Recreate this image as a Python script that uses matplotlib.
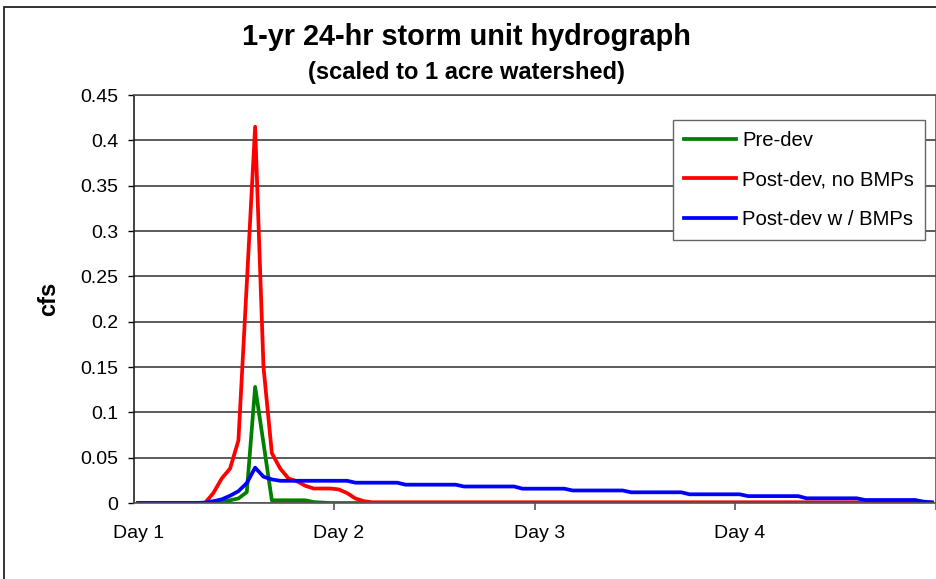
import matplotlib
matplotlib.use('Agg')
import matplotlib.pyplot as plt
from matplotlib.patches import Rectangle

plt.rcParams['font.family'] = ['Liberation Sans', 'DejaVu Sans']

# hourly flows (cfs), 96 hours = 4 days
pre_dev = [0, 0, 0, 0, 0, 0, 0, 0, 0, 0.0005, 0.001, 0.003,
           0.005, 0.012, 0.128, 0.066, 0.003, 0.003, 0.003, 0.003, 0.003, 0.001, 0.0005, 0,
           0, 0, 0, 0, 0, 0, 0, 0, 0, 0, 0, 0,
           0, 0, 0, 0, 0, 0, 0, 0, 0, 0, 0, 0,
           0, 0, 0, 0, 0, 0, 0, 0, 0, 0, 0, 0,
           0, 0, 0, 0, 0, 0, 0, 0, 0, 0, 0, 0,
           0, 0, 0, 0, 0, 0, 0, 0, 0, 0, 0, 0,
           0, 0, 0, 0, 0, 0, 0, 0, 0, 0, 0, 0]

post_no_bmp = [0, 0, 0, 0, 0, 0, 0, 0, 0, 0.011, 0.027, 0.038,
               0.069, 0.242, 0.415, 0.150, 0.055, 0.038, 0.027, 0.024, 0.019, 0.016, 0.016, 0.016,
               0.015, 0.011, 0.005, 0.002, 0.0008, 0.0008, 0.0008, 0.0008, 0.0008, 0.0008, 0.0008, 0.0008,
               0.0008, 0.0008, 0.0008, 0.0008, 0.0008, 0.0008, 0.0008, 0.0008, 0.0008, 0.0008, 0.0008, 0.0008,
               0.0008, 0.0008, 0.0008, 0.0008, 0.0008, 0.0008, 0.0008, 0.0008, 0.0008, 0.0008, 0.0008, 0.0008,
               0.0008, 0.0008, 0.0008, 0.0008, 0.0008, 0.0008, 0.0008, 0.0008, 0.0008, 0.0008, 0.0008, 0.0008,
               0.0008, 0.0008, 0.0008, 0.0008, 0.0008, 0.0008, 0.0008, 0.0008, 0.0008, 0.0008, 0.0008, 0.0008,
               0.0008, 0.0008, 0.0008, 0.0004, 0.0004, 0.0004, 0.0004, 0.0004, 0.0004, 0.0004, 0.0004, 0.0004]

post_bmp = [0, 0, 0, 0, 0, 0, 0, 0, 0.0005, 0.002, 0.004, 0.008,
            0.013, 0.022, 0.039, 0.029, 0.026, 0.0245, 0.0245, 0.0245, 0.0245, 0.0245, 0.0245, 0.0245,
            0.0245, 0.0245, 0.0224, 0.0224, 0.0224, 0.0224, 0.0224, 0.0224, 0.0202, 0.0202, 0.0202, 0.0202,
            0.0202, 0.0202, 0.0202, 0.0182, 0.0182, 0.0182, 0.0182, 0.0182, 0.0182, 0.0182, 0.0158, 0.0158,
            0.0158, 0.0158, 0.0158, 0.0158, 0.0138, 0.0138, 0.0138, 0.0138, 0.0138, 0.0138, 0.0138, 0.0118,
            0.0118, 0.0118, 0.0118, 0.0118, 0.0118, 0.0118, 0.0096, 0.0096, 0.0096, 0.0096, 0.0096, 0.0096,
            0.0096, 0.0076, 0.0076, 0.0076, 0.0076, 0.0076, 0.0076, 0.0076, 0.0052, 0.0052, 0.0052, 0.0052,
            0.0052, 0.0052, 0.0052, 0.0033, 0.0033, 0.0033, 0.0033, 0.0033, 0.0033, 0.0033, 0.0015, 0.0008]

day_labels = ['Day 1', 'Day 2', 'Day 3', 'Day 4']
day_pos = [0, 24, 48, 72]
y_ticks = [0, 0.05, 0.1, 0.15, 0.2, 0.25, 0.3, 0.35, 0.4, 0.45]
y_labels = ['0', '0.05', '0.1', '0.15', '0.2', '0.25', '0.3', '0.35', '0.4', '0.45']

W, H = 937, 579
fig = plt.figure(figsize=(W/100, H/100), dpi=100)

# chart area border (only left and top edges show)
fig.patches.append(Rectangle((4/W, -0.1), 1.2, (H-7)/H + 0.1, transform=fig.transFigure,
                             fill=False, ec='#222222', lw=1.3, clip_on=False))

ax = fig.add_axes([134/W, 76/H, 802/W, 408/H])
hours = list(range(len(pre_dev)))
ax.plot(hours, pre_dev, color='#008000', lw=2.7, label='Pre-dev')
ax.plot(hours, post_no_bmp, color='#ff0000', lw=2.7, label='Post-dev, no BMPs')
ax.plot(hours, post_bmp, color='#0000ff', lw=2.7, label='Post-dev w / BMPs')

ax.set_xlim(-0.5, 95.5)
ax.set_ylim(0, 0.45)
ax.set_yticks(y_ticks)
ax.set_yticklabels(y_labels)
ax.yaxis.grid(True, color='#404040', lw=1.2)
ax.set_axisbelow(True)

ax.set_xticks(day_pos)
ax.set_xticklabels(day_labels)
ax.set_xticks([23.5, 47.5, 71.5, 95.5], minor=True)
ax.tick_params(axis='x', which='major', length=0, pad=16, labelsize=14)
ax.tick_params(axis='x', which='minor', length=5, width=1.2, color='#555555', direction='out')
ax.tick_params(axis='y', length=4.5, width=1, direction='out', pad=7, labelsize=14)

for s in ['top', 'right', 'bottom']:
    ax.spines[s].set_color('#555555')
    ax.spines[s].set_linewidth(1.2)
ax.spines['left'].set_color('#222222')
ax.spines['left'].set_linewidth(1.2)

ax.set_ylabel('cfs', fontsize=17, fontweight='bold', labelpad=14)

fig.text(466/W, 1 - 37/H, '1-yr 24-hr storm unit hydrograph', ha='center', va='center',
         fontsize=20.8, fontweight='bold')
fig.text(466/W, 1 - 73/H, '(scaled to 1 acre watershed)', ha='center', va='center',
         fontsize=17, fontweight='bold')

leg = ax.legend(loc='upper left', bbox_to_anchor=(673/W, 1 - 120/H), bbox_transform=fig.transFigure,
                borderaxespad=0, fontsize=14.6, handlelength=2.55, handletextpad=0.3,
                labelspacing=1.0, borderpad=0.55, fancybox=False, framealpha=1)
leg.get_frame().set_edgecolor('#666666')
leg.get_frame().set_linewidth(1.0)

fig.savefig('out.png', dpi=100)
